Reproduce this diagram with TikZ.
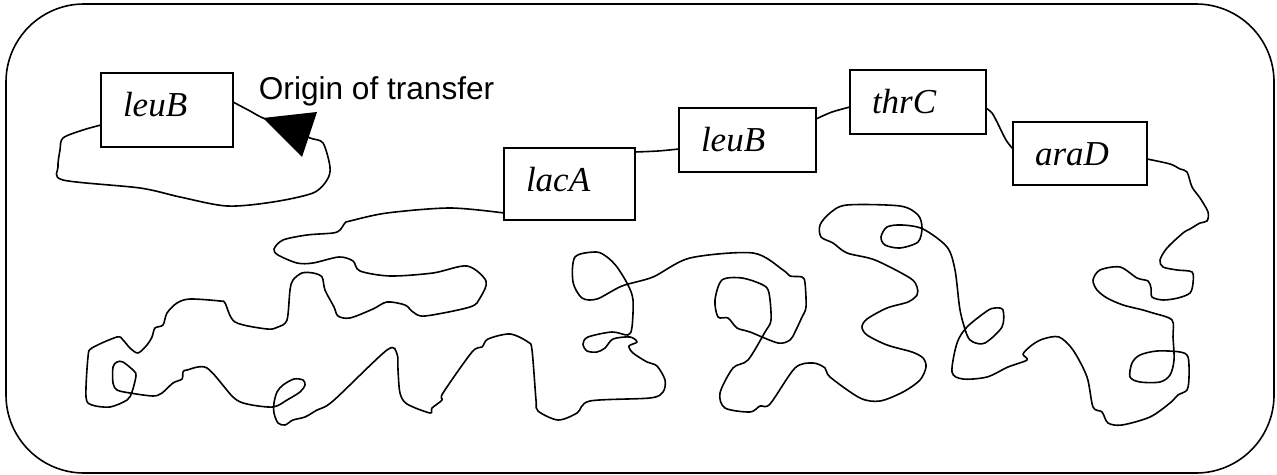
\documentclass[tikz,border=0pt]{standalone}
\usepackage{fontspec}
\setmainfont{Liberation Serif}
\newfontfamily\labelsans{Liberation Sans}
\begin{document}
\begin{tikzpicture}[x=0.5pt,y=-0.5pt,
  cellwall/.style={draw, line width=0.8pt, rounded corners=39pt},
  genebox/.style={draw, fill=white, line width=1pt, anchor=north west,
    inner xsep=11pt, inner ysep=0pt, outer sep=0pt, align=left,
    text height=22pt, font=\fontsize{17.5}{20}\selectfont\itshape},
  dna/.style={line width=0.8pt, line join=round, line cap=round},
  oriT/.style={fill=black},
  tag/.style={anchor=base west, inner sep=0pt, font=\labelsans\fontsize{15.8}{18}\selectfont}]

\useasboundingbox (0,0) rectangle (1277,475);

% cell outline
\draw[cellwall] (6,4) rectangle (1274,473);

% genes
\node[genebox, text width=44pt,   text depth=15.15pt] (leuBa) at (101,73)  {leuB};
\node[genebox, text width=43.5pt, text depth=14pt]    (lacA)  at (504,148) {lacA};
\node[genebox, text width=46.5pt, text depth=10.15pt] (leuBb) at (679,108) {leuB};
\node[genebox, text width=46pt,   text depth=10pt]    (thrC)  at (850,70)  {thrC};
\node[genebox, text width=45pt,   text depth=9.65pt]  (araD)  at (1013,122) {araD};

% where the DNA leaves each box
\coordinate (aR)   at ([yshift=-14.5pt]leuBa.north east);
\coordinate (aL)   at ([yshift=-26pt]leuBa.north west);
\coordinate (lacL) at ([yshift=-32.5pt]lacA.north west);
\coordinate (lacR) at ([yshift=-2pt]lacA.north east);
\coordinate (bL)   at ([yshift=-20.5pt]leuBb.north west);
\coordinate (bR)   at ([yshift=-5.5pt]leuBb.north east);
\coordinate (thrL) at ([yshift=-18.5pt]thrC.north west);
\coordinate (thrR) at ([yshift=-19pt]thrC.north east);
\coordinate (araL) at ([yshift=-13.5pt]araD.north west);
\coordinate (araR) at ([yshift=-18.5pt]araD.north east);

% F plasmid loop
\draw[dna] plot[smooth] coordinates {(aR) (250,111) (263,118) (290,128) (310,138)
  (323,143) (330,167) (327,180) (313,193) (273,202) (227,206) (180,197) (140,188)
  (63,180) (58,167) (60,150) (63,138) (83,130) (aL)};

% links between the genes
\draw[dna] plot[smooth] coordinates {(lacR) (658,151) (bL)};
\draw[dna] plot[smooth] coordinates {(bR) (832,112) (thrL)};
\draw[dna] plot[smooth] coordinates {(thrR) (992,113) (997,122) (1006,140) (araL)};

% chromosome
\draw[dna] plot[smooth] coordinates {(lacL)
 (450,208) (387,213) (350,221) (345,223) (340,230) (333,233) (307,235) (283,240)
 (274,249) (278,255) (297,263) (313,263) (339,257) (353,261) (360,271) (390,276)
 (433,273) (467,266) (486,281) (480,298) (470,307) (425,316) (413,312) (405,305)
 (387,302) (373,309) (350,318) (338,316) (334,307) (325,290) (322,277) (313,273)
 (302,273) (293,280) (290,290) (287,320) (278,327) (267,329) (235,322) (225,303)
 (220,301) (190,299) (177,303) (167,313) (163,325) (155,328) (152,337) (147,345)
 (138,353) (130,348) (123,340) (117,337) (92,348) (88,357) (86,397) (92,405)
 (110,407) (127,400) (132,392) (136,376) (134,371) (123,362) (117,362) (113,367)
 (113,383) (117,390) (130,393) (153,396) (162,393) (173,383) (182,379) (183,372)
 (187,370) (207,368) (233,397) (247,404) (273,407) (287,400) (300,392) (305,385)
 (303,380) (294,379) (283,385) (277,392) (274,403) (274,413) (278,423) (285,425)
 (293,420) (305,417) (317,410) (333,401) (387,350) (397,354) (398,370) (400,393)
 (407,404) (430,413) (432,408) (442,400) (443,393) (472,352) (482,347) (488,339)
 (510,334) (528,342) (532,350) (536,400) (538,411) (558,420) (577,413) (590,401)
 (650,398) (663,392) (665,380) (657,366) (647,362) (633,353) (629,346) (637,342)
 (630,337) (613,339) (605,348) (597,352) (587,351) (583,344) (588,337) (612,332)
 (628,335) (632,327) (633,300) (628,285) (617,267) (607,257) (596,252) (575,257)
 (573,282) (582,298) (597,299) (622,286) (653,277) (690,258) (753,253) (783,270)
 (790,276) (802,277) (805,283) (806,307) (802,317) (795,332) (790,340) (778,343)
 (750,332) (737,328) (728,318) (718,317) (715,300) (722,280) (742,278) (763,285)
 (769,293) (771,320) (765,332) (748,360) (733,368) (720,393) (725,408) (750,412)
 (760,406) (770,404) (795,368) (813,363) (825,368) (830,377) (860,398) (880,401)
 (903,392) (920,380) (926,367) (923,358) (912,352) (887,345) (867,335) (862,327)
 (867,319) (887,308) (908,302) (917,295) (917,287) (910,278) (875,260) (847,253)
 (833,243) (821,237) (820,225) (830,213) (847,205) (900,206) (918,215) (922,228)
 (918,242) (900,248) (885,245) (881,237) (887,227) (902,225) (923,229) (947,247)
 (955,270) (960,310) (967,335) (973,342) (985,343) (1002,327) (1003,310) (995,308)
 (987,311) (967,327) (957,343) (952,372) (963,379) (987,377) (1008,367) (1027,360)
 (1023,354) (1032,345) (1043,339) (1059,337) (1073,350) (1087,377) (1093,407)
 (1102,412) (1108,423) (1122,425) (1150,417) (1170,403) (1178,395) (1187,390)
 (1189,377) (1188,357) (1180,352) (1157,351) (1140,355) (1132,363) (1130,377)
 (1140,382) (1160,382) (1170,375) (1174,360) (1173,337) (1172,320) (1153,313)
 (1143,310) (1123,305) (1107,298) (1097,290) (1093,280) (1100,270) (1120,267)
 (1137,278) (1148,281) (1151,288) (1152,297) (1163,300) (1178,298) (1190,293)
 (1193,283) (1192,272) (1177,270) (1163,267) (1160,260) (1167,248) (1183,233)
 (1190,229) (1200,223) (1207,221) (1208,212) (1200,198) (1192,187) (1187,172)
 (1180,169) (1170,164) (araR)};

% origin of transfer
\fill[oriT] (263,118) coordinate (oriA) -- (317,112) coordinate (oriB)
  -- (302,157) coordinate (oriC) -- cycle;
\node[tag] (oriLabel) at (258.5,99.3) {Origin of transfer};

\end{tikzpicture}
\end{document}
